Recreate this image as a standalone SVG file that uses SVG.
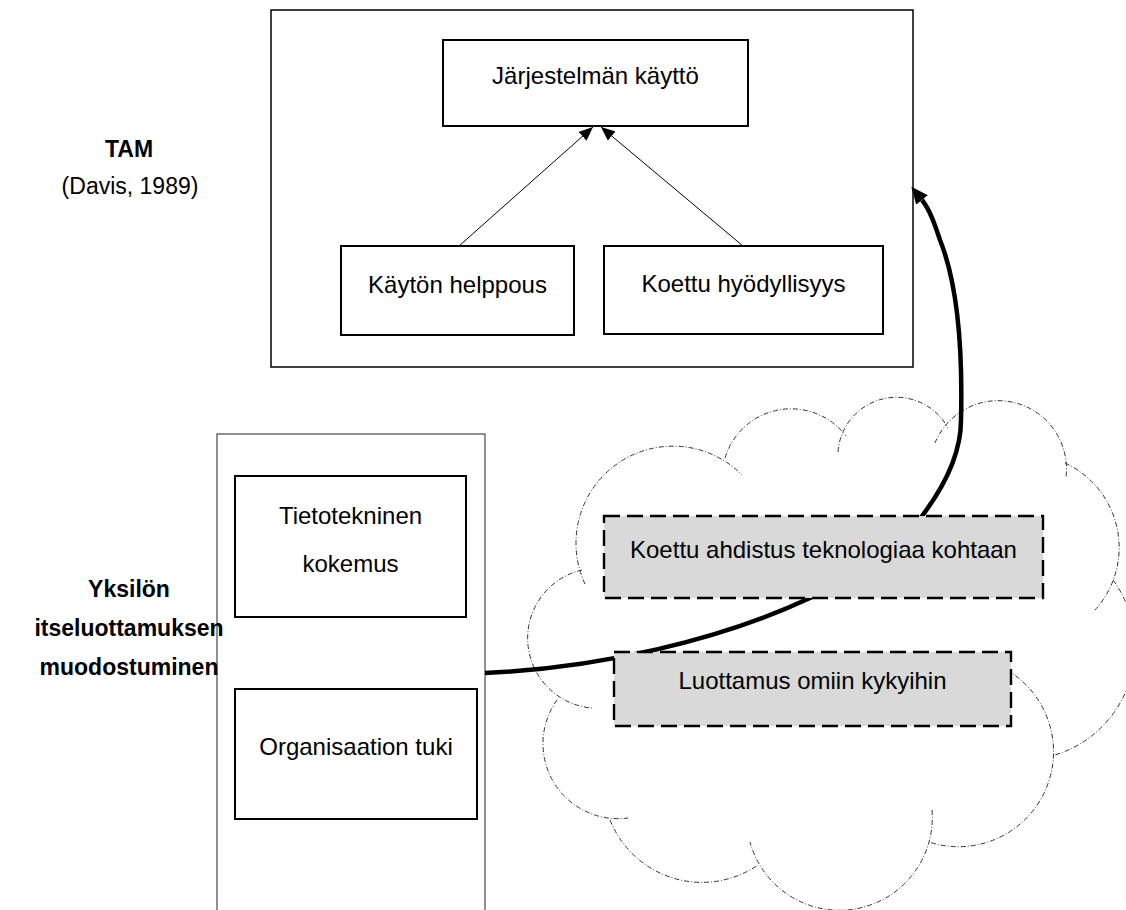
<svg xmlns="http://www.w3.org/2000/svg" width="1126" height="910" viewBox="0 0 1126 910">
  <defs>
    <style>
      .frame { fill: none; stroke: #000; stroke-width: 1.5; }
      .frame-thin { fill: none; stroke: #222; stroke-width: 1; }
      .box { fill: #fff; stroke: #000; stroke-width: 2; }
      .dbox { fill: #d9d9d9; stroke: #000; stroke-width: 2.4; stroke-dasharray: 16 7; }
      .cloud { fill: none; stroke: #333; stroke-width: 1; stroke-dasharray: 5 2 1 2; }
      .txt { font-family: "Liberation Sans", Arial, sans-serif; font-size: 24px; fill: #000; text-anchor: middle; }
      .lbl { font-family: "Liberation Sans", Arial, sans-serif; font-size: 23px; fill: #000; text-anchor: middle; }
      .bold { font-weight: bold; }
      .thin { fill: none; stroke: #000; stroke-width: 1; }
      .thick { fill: none; stroke: #000; stroke-width: 4.5; }
    </style>
    <marker id="headThin" markerUnits="userSpaceOnUse" markerWidth="15" markerHeight="12" refX="14" refY="6" orient="auto">
      <path d="M0,0 L14,6 L0,12 z" fill="#000"/>
    </marker>
    <marker id="headThick" markerUnits="userSpaceOnUse" markerWidth="18" markerHeight="16" refX="0" refY="7.5" orient="auto">
      <path d="M0,0 L17,7.5 L0,15 z" fill="#000"/>
    </marker>
  </defs>

  <rect width="1126" height="910" fill="#fff"/>

  <!-- TAM model frame -->
  <g id="tam-frame">
    <rect class="frame" x="271" y="10" width="642" height="357"/>
  </g>

  <!-- Frame for individual self-efficacy factors (runs past the lower edge) -->
  <g id="self-efficacy-frame">
    <rect class="frame-thin" x="217" y="434" width="268" height="500"/>
  </g>

  <!-- Cloud outline built from overlapping arcs -->
  <g id="cloud">
    <path class="cloud" d="M582,570 A70,70 0 0 0 592,708"/>
    <path class="cloud" d="M585,584 A97,97 0 0 1 742,475"/>
    <path class="cloud" d="M725,458 A69,69 0 0 1 846,436"/>
    <path class="cloud" d="M838,452 A58.6,58.6 0 0 1 948,428"/>
    <path class="cloud" d="M935,443 A68.3,68.3 0 0 1 1066,477"/>
    <path class="cloud" d="M1065,463 A93,93 0 0 1 1095,610"/>
    <path class="cloud" d="M1113,580 A113,113 0 0 1 1055,755"/>
    <path class="cloud" d="M1007,670 A95,95 0 0 1 929,842"/>
    <path class="cloud" d="M932,810 A92.8,92.8 0 0 1 750,842"/>
    <path class="cloud" d="M610,820 A99,99 0 0 0 758,865"/>
    <path class="cloud" d="M557,700 A75,75 0 0 0 628,818"/>
  </g>

  <!-- Connectors -->
  <g id="connectors">
    <path id="c-helppous" class="thin" d="M459,246 L593,127" marker-end="url(#headThin)"/>
    <path id="c-hyodyllisyys" class="thin" d="M743,246 L601,127" marker-end="url(#headThin)"/>
    <path id="c-itseluottamus" class="thick" d="M485,673 C600,668 720,640 810,598 C855,578 900,545 922,516 C944,487 961,455 961,420 C963,340 956,280 940,240 C935,225 930,210 922,200" marker-end="url(#headThick)"/>
  </g>

  <!-- TAM nodes -->
  <g id="jarjestelman-kaytto">
    <rect class="box" x="443" y="40" width="305" height="86"/>
    <text class="txt" x="595.5" y="84">Järjestelmän käyttö</text>
  </g>
  <g id="kayton-helppous">
    <rect class="box" x="341" y="246" width="233" height="89"/>
    <text class="txt" x="457.5" y="293">Käytön helppous</text>
  </g>
  <g id="koettu-hyodyllisyys">
    <rect class="box" x="604" y="246" width="279" height="88"/>
    <text class="txt" x="743.5" y="292">Koettu hyödyllisyys</text>
  </g>

  <!-- Self-efficacy nodes -->
  <g id="tietotekninen-kokemus">
    <rect class="box" x="235" y="476" width="231" height="141"/>
    <text class="txt" x="350.5" y="524">Tietotekninen</text>
    <text class="txt" x="350.5" y="572">kokemus</text>
  </g>
  <g id="organisaation-tuki">
    <rect class="box" x="235" y="689" width="242" height="130"/>
    <text class="txt" x="356" y="755">Organisaation tuki</text>
  </g>

  <!-- Cloud nodes -->
  <g id="koettu-ahdistus">
    <rect class="dbox" x="604" y="516" width="439" height="82"/>
    <text class="txt" x="823.5" y="558">Koettu ahdistus teknologiaa kohtaan</text>
  </g>
  <g id="luottamus-kykyihin">
    <rect class="dbox" x="614" y="652" width="397" height="74"/>
    <text class="txt" x="812.5" y="689">Luottamus omiin kykyihin</text>
  </g>

  <!-- Side labels -->
  <g id="label-tam">
    <text class="lbl bold" x="129" y="157">TAM</text>
    <text class="lbl" x="130" y="194">(Davis, 1989)</text>
  </g>
  <g id="label-yksilo">
    <text class="lbl bold" x="129" y="597">Yksilön</text>
    <text class="lbl bold" x="129" y="636">itseluottamuksen</text>
    <text class="lbl bold" x="129" y="675">muodostuminen</text>
  </g>
</svg>
